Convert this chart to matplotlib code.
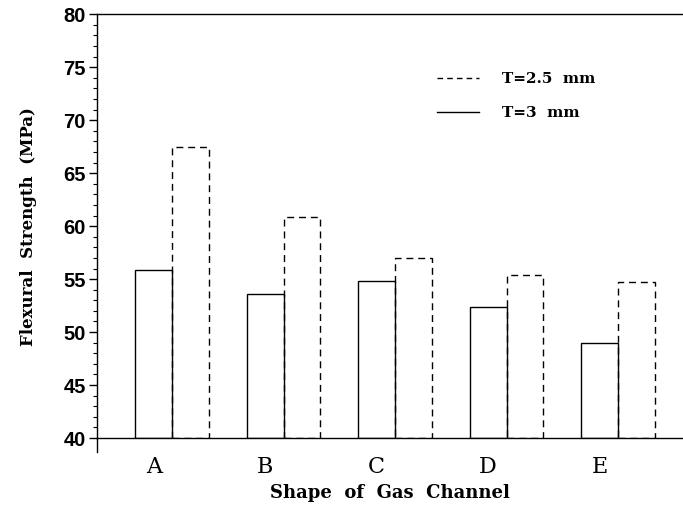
import numpy as np
import matplotlib.pyplot as plt
from matplotlib.lines import Line2D

# data
shapes = ["A", "B", "C", "D", "E"]
t3_mm = [55.9, 53.55, 54.8, 52.4, 48.95]
t25_mm = [67.45, 60.9, 57.0, 55.35, 54.75]

serif = "DejaVu Serif"
sans = "Liberation Sans"

fig = plt.figure(figsize=(6.83, 5.07), dpi=100)
ax = fig.add_axes([0.142, 0.136, 0.858, 0.836])

x = np.arange(len(shapes))
w = 0.33

# solid bars (T=3 mm) on the left, dashed (T=2.5 mm) on the right
ax.bar(x - w / 2, [v - 40 for v in t3_mm], width=w, bottom=40,
       facecolor="none", edgecolor="black", linewidth=1.0)
ax.bar(x + w / 2, [v - 40 for v in t25_mm], width=w, bottom=40,
       facecolor="none", edgecolor="black", linewidth=1.0,
       linestyle=(0, (5, 3.5)))

ax.set_ylim(40, 80)
ax.set_xlim(-0.673, 4.583)

# axes frame
ax.spines["right"].set_visible(False)
for s in ["left", "top", "bottom"]:
    ax.spines[s].set_linewidth(1.0)
ax.plot([0, 0], [0, -0.033], transform=ax.transAxes, color="black",
        linewidth=1.0, clip_on=False)

# y ticks
ax.set_yticks(np.arange(40, 81, 5))
ax.set_yticks(np.arange(40, 81, 1), minor=True)
ax.tick_params(axis="y", which="major", direction="out", length=6, width=1.0,
               labelsize=14.5, pad=2)
ax.tick_params(axis="y", which="minor", direction="out", length=3, width=0.8)
for lab in ax.get_yticklabels():
    lab.set_fontfamily(sans)
    lab.set_fontweight("bold")

# x tick labels under the solid bars
ax.set_xticks(x - w / 2)
ax.set_xticklabels(shapes, fontfamily=serif, fontsize=16)
ax.tick_params(axis="x", which="major", length=0, pad=13)

ax.set_ylabel("Flexural  Strength  (MPa)", fontfamily=serif, fontweight="bold",
              fontsize=12, labelpad=19)
ax.set_xlabel("Shape  of  Gas  Channel", fontfamily=serif, fontweight="bold",
              fontsize=13, labelpad=4)

handles = [Line2D([], [], color="black", linewidth=1.0, linestyle=(0, (4, 3))),
           Line2D([], [], color="black", linewidth=1.0)]
ax.legend(handles, ["T=2.5  mm", "T=3  mm"], loc="upper left",
          bbox_to_anchor=(0.556, 0.896), frameon=False, handlelength=2.8,
          handletextpad=1.5, labelspacing=1.3,
          prop={"family": serif, "weight": "bold", "size": 11})

fig.savefig("out.png", dpi=100)
